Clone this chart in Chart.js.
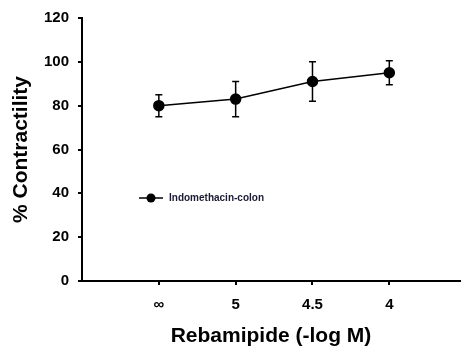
<!DOCTYPE html>
<html>
<head>
<meta charset="utf-8">
<script src="https://cdn.jsdelivr.net/npm/chart.js@4.4.1/dist/chart.umd.min.js"></script>
<style>
  html, body { margin: 0; padding: 0; background: #fff; }
  #wrap { width: 461px; height: 347px; }
</style>
</head>
<body>
<div id="wrap"><canvas id="chart" width="461" height="347"></canvas></div>
<script>
// data
const xLabels = ['∞', '5', '4.5', '4'];
const xPos = [1, 2, 3, 4];
const contractility = [80, 83, 91, 95];
const errors = [5, 8, 9, 5.5];
const yTicks = [0, 20, 40, 60, 80, 100, 120];
const seriesName = 'Indomethacin-colon';

const FONT = '"Liberation Sans", Arial, sans-serif';

// error bars drawn from the scales
const errorBars = {
    id: 'errorBars',
    afterDatasetsDraw(chart) {
        const { ctx, scales: { x, y } } = chart;
        ctx.save();
        ctx.strokeStyle = '#000';
        ctx.lineWidth = 1.5;
        contractility.forEach((v, i) => {
            const px = x.getPixelForValue(xPos[i]);
            const top = y.getPixelForValue(v + errors[i]);
            const bot = y.getPixelForValue(v - errors[i]);
            ctx.beginPath();
            ctx.moveTo(px, top); ctx.lineTo(px, bot);
            ctx.moveTo(px - 3.5, top); ctx.lineTo(px + 3.5, top);
            ctx.moveTo(px - 3.5, bot); ctx.lineTo(px + 3.5, bot);
            ctx.stroke();
        });
        ctx.restore();
    }
};

// legend sitting inside the plot
const innerLegend = {
    id: 'innerLegend',
    afterDraw(chart) {
        const { ctx } = chart;
        const lx = 139, ly = 198;
        ctx.save();
        ctx.strokeStyle = '#000';
        ctx.lineWidth = 1.5;
        ctx.beginPath();
        ctx.moveTo(lx, ly); ctx.lineTo(lx + 24, ly);
        ctx.stroke();
        ctx.fillStyle = '#000';
        ctx.beginPath();
        ctx.arc(lx + 12, ly, 4.5, 0, Math.PI * 2);
        ctx.fill();
        ctx.fillStyle = '#1a1a33';
        ctx.font = 'bold 10px ' + FONT;
        ctx.textBaseline = 'middle';
        ctx.fillText(chart.data.datasets[0].label, lx + 30, ly);
        ctx.restore();
    }
};

new Chart(document.getElementById('chart'), {
    type: 'line',
    data: {
        datasets: [{
            label: seriesName,
            data: xPos.map((p, i) => ({ x: p, y: contractility[i] })),
            borderColor: '#000',
            backgroundColor: '#000',
            borderWidth: 1.5,
            pointRadius: 5,
            pointBackgroundColor: '#000',
            pointBorderColor: '#000',
            tension: 0
        }]
    },
    options: {
        responsive: false,
        animation: false,
        layout: { autoPadding: false, padding: { top: 14, right: 1, left: 0, bottom: 0 } },
        plugins: {
            legend: { display: false },
            tooltip: { enabled: false }
        },
        scales: {
            x: {
                type: 'linear',
                min: 0,
                max: 4.92,
                afterBuildTicks: (scale) => { scale.ticks = xPos.map(v => ({ value: v })); },
                afterFit: (scale) => { scale.height = 66; },
                border: { display: true, color: '#000', width: 2 },
                grid: { drawOnChartArea: false, drawTicks: true, tickLength: 4, color: '#000', lineWidth: 2 },
                ticks: {
                    padding: 11,
                    color: '#000',
                    font: { family: FONT, size: 15, weight: 'bold' },
                    callback: (v) => xLabels[xPos.indexOf(v)] ?? ''
                },
                title: {
                    display: true,
                    text: 'Rebamipide (-log M)',
                    color: '#000',
                    font: { family: FONT, size: 21, weight: 'bold', lineHeight: 1 },
                    padding: { top: 0, bottom: 0 }
                }
            },
            y: {
                min: 0,
                max: 120,
                afterBuildTicks: (scale) => { scale.ticks = yTicks.map(v => ({ value: v })); },
                afterFit: (scale) => { scale.width = 82; },
                border: { display: true, color: '#000', width: 2 },
                grid: { drawOnChartArea: false, drawTicks: true, tickLength: 4, color: '#000', lineWidth: 2 },
                ticks: {
                    padding: 9,
                    color: '#000',
                    font: { family: FONT, size: 15, weight: 'bold' }
                },
                title: {
                    display: true,
                    text: '% Contractility',
                    color: '#000',
                    font: { family: FONT, size: 21, weight: 'bold', lineHeight: 1 },
                    padding: { top: 11, bottom: 0 }
                }
            }
        }
    },
    plugins: [errorBars, innerLegend]
});
</script>
</body>
</html>
